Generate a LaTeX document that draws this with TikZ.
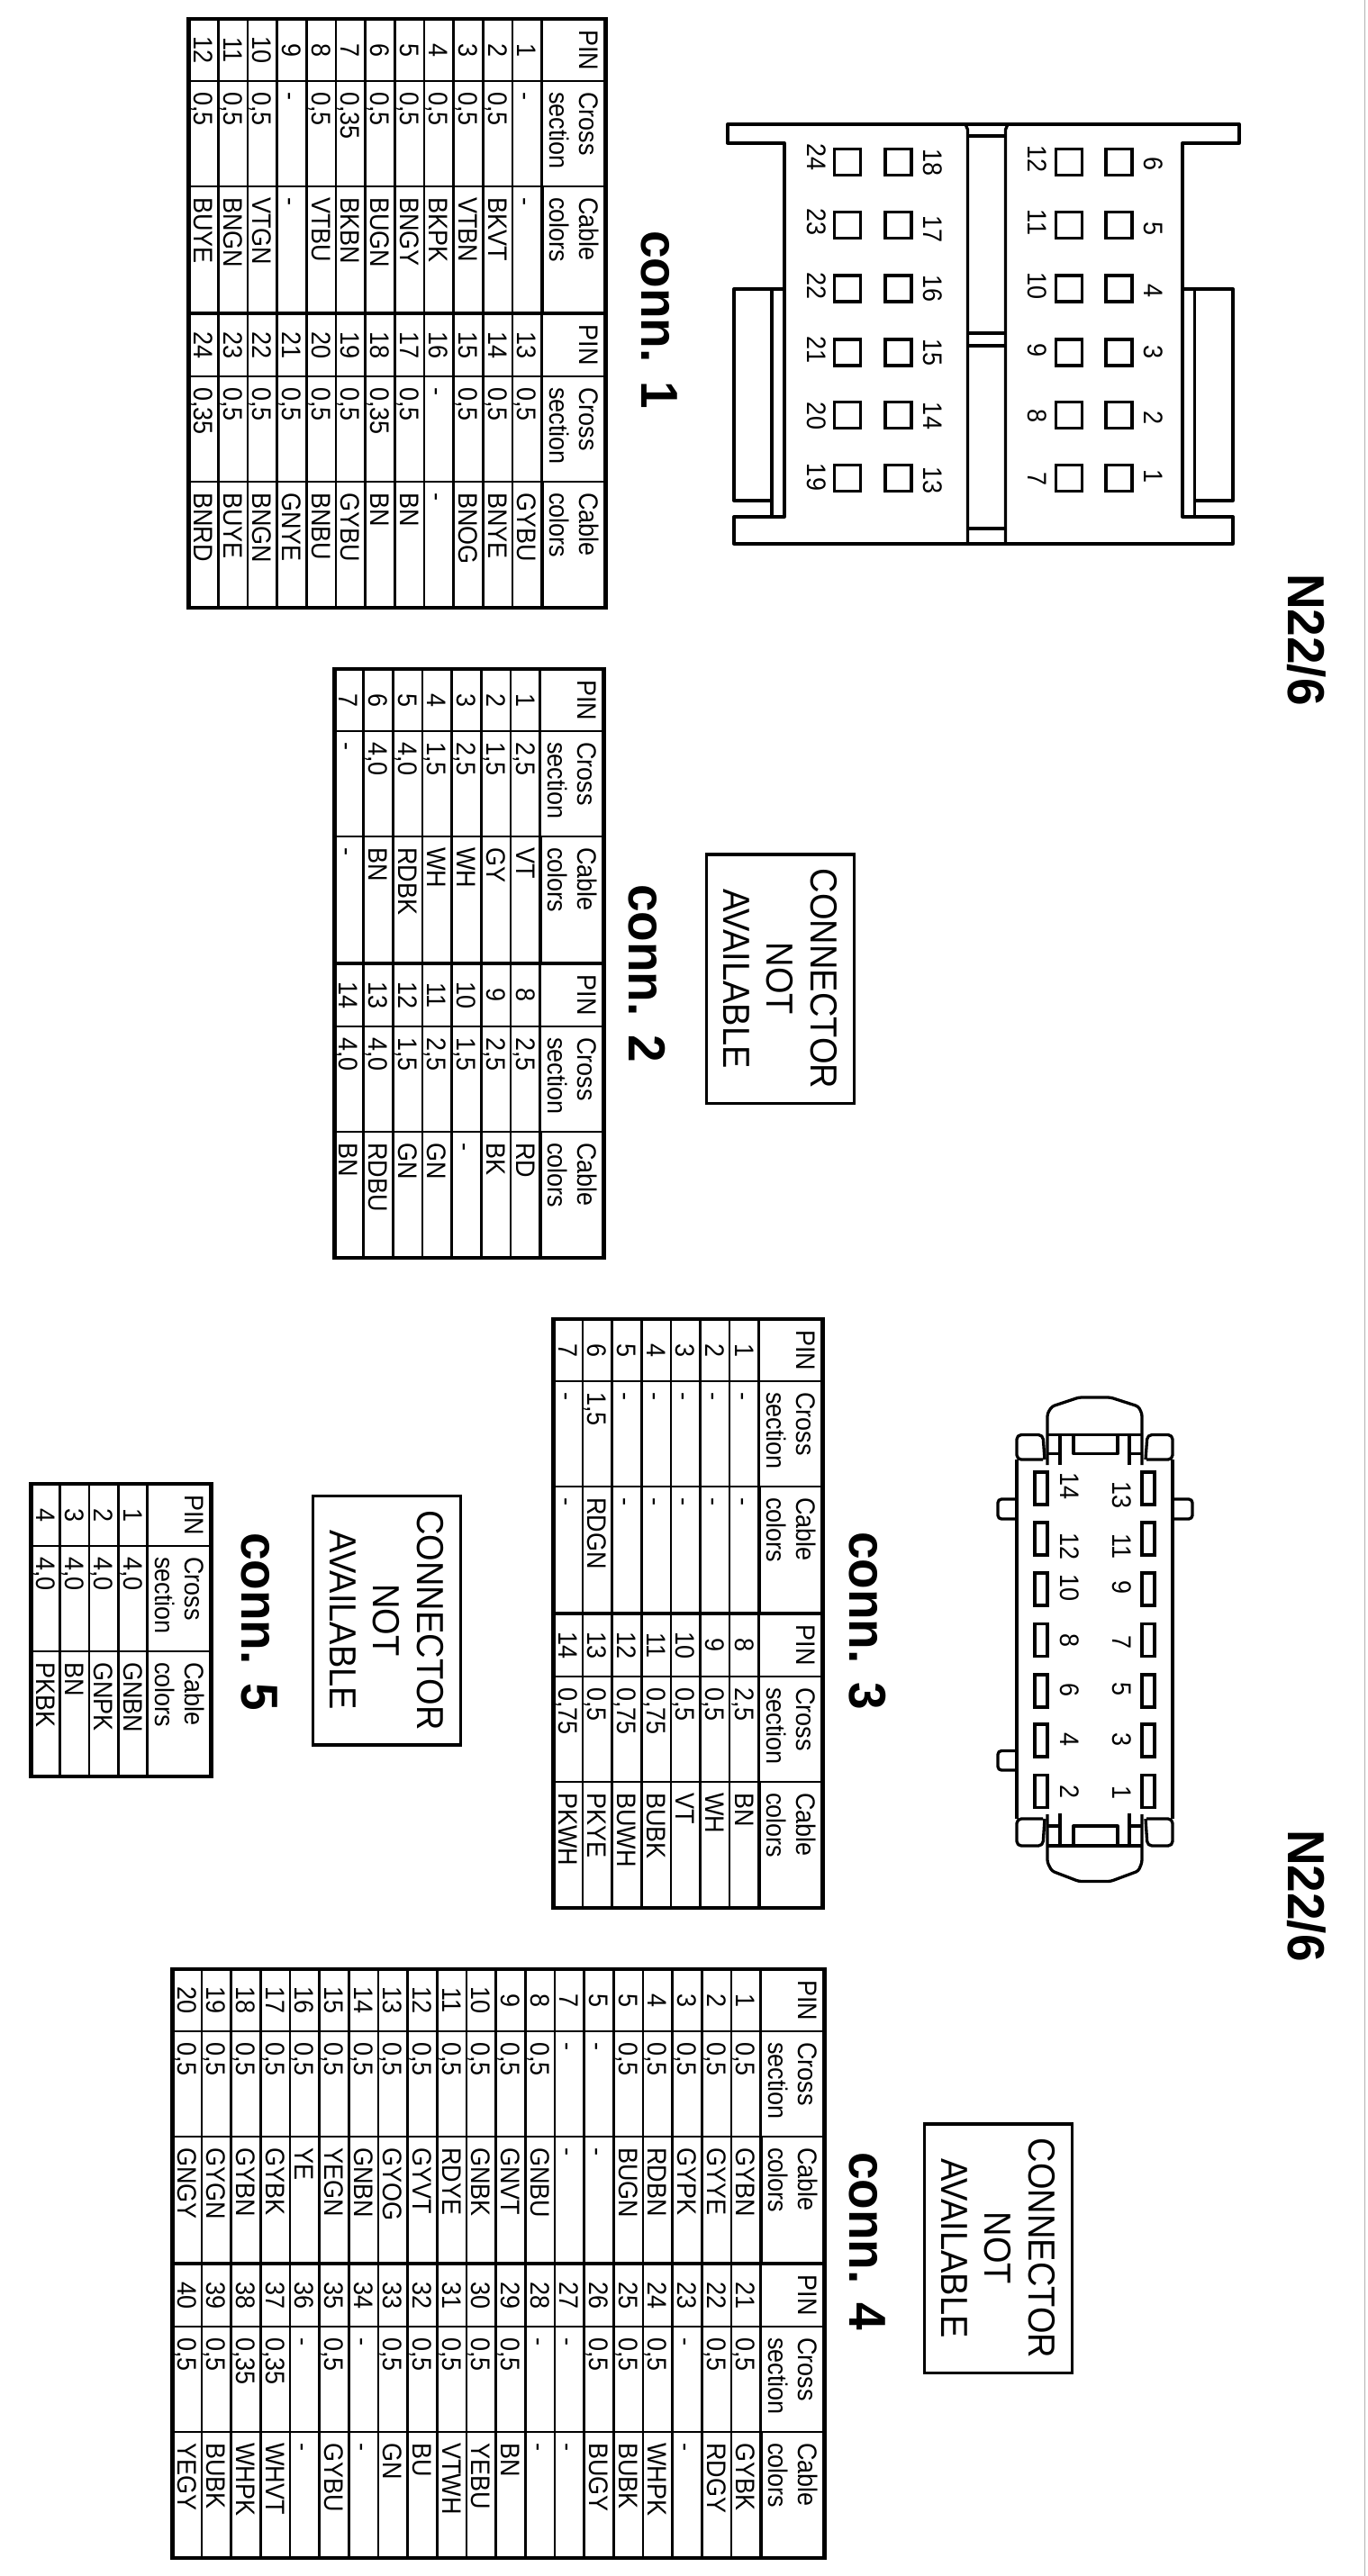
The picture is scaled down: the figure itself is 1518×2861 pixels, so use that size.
\documentclass[tikz,border=0pt]{standalone}
\usepackage{fontspec}
\setmainfont{Liberation Sans}
\usetikzlibrary{matrix,fit}

\begin{document}
\begin{tikzpicture}[
  x=1pt,y=-1pt,
  every node/.style={inner sep=0pt,outer sep=0pt},
  conntable/.style={
    matrix of nodes,
    anchor=north west,
    row sep=-2.4pt,
    column sep=-2.4pt,
    nodes={
      draw,
      line width=2.4pt,
      font=\fontsize{27}{30}\selectfont,
      minimum height=#1,
      text height=19pt,
      text depth=0pt
    },
    row 1/.style={nodes={minimum height=64pt,text height={},text depth={}}},
    column 1/.style={nodes={text width=69pt,align=center}},
    column 2/.style={nodes={text width=93pt,inner xsep=12pt,align=left}},
    column 3/.style={nodes={text width=117pt,inner xsep=12pt,align=left}},
    column 4/.style={nodes={text width=70pt,align=center}},
    column 5/.style={nodes={text width=93pt,inner xsep=12pt,align=left}},
    column 6/.style={nodes={text width=116pt,inner xsep=12pt,align=left}}
  },
  tableframe/.style={draw,line width=4.5pt},
  midline/.style={line width=4.5pt},
  notavailable/.style={
    draw,
    line width=3.5pt,
    rotate=-90,
    yscale=1.1,
    align=center,
    minimum width=276.5pt,
    minimum height=149.5pt,
    font=\fontsize{38}{44}\selectfont
  },
  conntitle/.style={
    rotate=-90,
    yscale=1.05,
    anchor=base west,
    font=\fontsize{55}{60}\selectfont\bfseries
  },
  pinbox/.style={draw,line width=3.3pt,minimum width=29pt,minimum height=29pt},
  pinslot/.style={draw,line width=3.3pt,minimum width=14pt,minimum height=36pt},
  pinnum/.style={
    rotate=-90,
    yscale=1.1,
    anchor=base,
    font=\fontsize{27}{30}\selectfont
  },
  outline/.style={line width=3.3pt,line join=round}
]
  \useasboundingbox (0,0) rectangle (1518,2861);
  \draw [gray!60,line width=1pt] (1515.5,0) -- (1515.5,2861);

  % conn. 1
  \begin{scope}[transform canvas={shift={(675,19)},rotate=-90,yscale=1.1}]
  \matrix (tableone) [conntable=29.7pt] at (1,1) {
    {PIN\\~} & {Cross\\section} & {Cable\\colors} & {PIN\\~} & {Cross\\section} & {Cable\\colors} \\
    1 & - & - & 13 & 0,5 & GYBU \\
    2 & 0,5 & BKVT & 14 & 0,5 & BNYE \\
    3 & 0,5 & VTBN & 15 & 0,5 & BNOG \\
    4 & 0,5 & BKPK & 16 & - & - \\
    5 & 0,5 & BNGY & 17 & 0,5 & BN \\
    6 & 0,5 & BUGN & 18 & 0,35 & BN \\
    7 & 0,35 & BKBN & 19 & 0,5 & GYBU \\
    8 & 0,5 & VTBU & 20 & 0,5 & BNBU \\
    9 & - & - & 21 & 0,5 & GNYE \\
    10 & 0,5 & VTGN & 22 & 0,5 & BNGN \\
    11 & 0,5 & BNGN & 23 & 0,5 & BUYE \\
    12 & 0,5 & BUYE & 24 & 0,35 & BNRD \\
  };
  \node [tableframe,fit=(tableone-1-1)(tableone-13-6)] (frameone) {};
  \draw [midline] (tableone-1-4.north west) -- (tableone-13-4.south west);
  \end{scope}
  \node [conntitle] (titleone) at (712.5,256) {conn. 1};

  % conn. 2
  \begin{scope}[transform canvas={shift={(673,741)},rotate=-90,yscale=1.1}]
  \matrix (tabletwo) [conntable=29.7pt] at (1,1) {
    {PIN\\~} & {Cross\\section} & {Cable\\colors} & {PIN\\~} & {Cross\\section} & {Cable\\colors} \\
    1 & 2,5 & VT & 8 & 2,5 & RD \\
    2 & 1,5 & GY & 9 & 2,5 & BK \\
    3 & 2,5 & WH & 10 & 1,5 & - \\
    4 & 1,5 & WH & 11 & 2,5 & GN \\
    5 & 4,0 & RDBK & 12 & 1,5 & GN \\
    6 & 4,0 & BN & 13 & 4,0 & RDBU \\
    7 & - & - & 14 & 4,0 & BN \\
  };
  \node [tableframe,fit=(tabletwo-1-1)(tabletwo-8-6)] (frametwo) {};
  \draw [midline] (tabletwo-1-4.north west) -- (tabletwo-8-4.south west);
  \end{scope}
  \node [conntitle] (titletwo) at (698,982) {conn. 2};
  \node [notavailable] (naone) at (866.5,1087) {CONNECTOR\\NOT\\AVAILABLE};

  % conn. 3
  \begin{scope}[transform canvas={shift={(916,1463)},rotate=-90,yscale=1.1}]
  \matrix (tablethree) [conntable=29.65pt] at (1,1) {
    {PIN\\~} & {Cross\\section} & {Cable\\colors} & {PIN\\~} & {Cross\\section} & {Cable\\colors} \\
    1 & - & - & 8 & 2,5 & BN \\
    2 & - & - & 9 & 0,5 & WH \\
    3 & - & - & 10 & 0,5 & VT \\
    4 & - & - & 11 & 0,75 & BUBK \\
    5 & - & - & 12 & 0,75 & BUWH \\
    6 & 1,5 & RDGN & 13 & 0,5 & PKYE \\
    7 & - & - & 14 & 0,75 & PKWH \\
  };
  \node [tableframe,fit=(tablethree-1-1)(tablethree-8-6)] (framethree) {};
  \draw [midline] (tablethree-1-4.north west) -- (tablethree-8-4.south west);
  \end{scope}
  \node [conntitle] (titlethree) at (943,1701) {conn. 3};

  % conn. 4
  \begin{scope}[transform canvas={shift={(918,2185)},rotate=-90,yscale=1.1}]
  \matrix (tablefour) [conntable=29.7pt] at (1,1) {
    {PIN\\~} & {Cross\\section} & {Cable\\colors} & {PIN\\~} & {Cross\\section} & {Cable\\colors} \\
    1 & 0,5 & GYBN & 21 & 0,5 & GYBK \\
    2 & 0,5 & GYYE & 22 & 0,5 & RDGY \\
    3 & 0,5 & GYPK & 23 & - & - \\
    4 & 0,5 & RDBN & 24 & 0,5 & WHPK \\
    5 & 0,5 & BUGN & 25 & 0,5 & BUBK \\
    5 & - & - & 26 & 0,5 & BUGY \\
    7 & - & - & 27 & - & - \\
    8 & 0,5 & GNBU & 28 & - & - \\
    9 & 0,5 & GNVT & 29 & 0,5 & BN \\
    10 & 0,5 & GNBK & 30 & 0,5 & YEBU \\
    11 & 0,5 & RDYE & 31 & 0,5 & VTWH \\
    12 & 0,5 & GYVT & 32 & 0,5 & BU \\
    13 & 0,5 & GYOG & 33 & 0,5 & GN \\
    14 & 0,5 & GNBN & 34 & - & - \\
    15 & 0,5 & YEGN & 35 & 0,5 & GYBU \\
    16 & 0,5 & YE & 36 & - & - \\
    17 & 0,5 & GYBK & 37 & 0,35 & WHVT \\
    18 & 0,5 & GYBN & 38 & 0,35 & WHPK \\
    19 & 0,5 & GYGN & 39 & 0,5 & BUBK \\
    20 & 0,5 & GNGY & 40 & 0,5 & YEGY \\
  };
  \node [tableframe,fit=(tablefour-1-1)(tablefour-21-6)] (framefour) {};
  \draw [midline] (tablefour-1-4.north west) -- (tablefour-21-4.south west);
  \end{scope}
  \node [conntitle] (titlefour) at (943,2390) {conn. 4};
  \node [notavailable] (natwo) at (1108.5,2497) {CONNECTOR\\NOT\\AVAILABLE};

  % conn. 5
  \begin{scope}[transform canvas={shift={(237,1646)},rotate=-90,yscale=1.1}]
  \matrix (tablefive) [conntable=29.4pt,column 3/.style={nodes={text width=115pt,inner xsep=12pt,align=left}}] at (1,1) {
    {PIN\\~} & {Cross\\section} & {Cable\\colors} \\
    1 & 4,0 & GNBN \\
    2 & 4,0 & GNPK \\
    3 & 4,0 & BN \\
    4 & 4,0 & PKBK \\
  };
  \node [tableframe,fit=(tablefive-1-1)(tablefive-5-3)] (framefive) {};
  \end{scope}
  \node [conntitle] (titlefive) at (268,1702) {conn. 5};
  \node [notavailable] (nathree) at (429.5,1799.5) {CONNECTOR\\NOT\\AVAILABLE};

  % N22/6 labels
  \node [conntitle] (nameone) at (1430,637) {N22/6};
  \node [conntitle] (nametwo) at (1430,2032) {N22/6};

  % upper connector
  \draw [outline] (808,138) -- (808,159) -- (871,159) -- (871,574) -- (815,574) -- (815,604)
    -- (1369,604) -- (1369,574) -- (1313,574) -- (1313,159) -- (1376,159) -- (1376,138) -- cycle;
  \draw [outline] (871,321) -- (815,321) -- (815,556) -- (857,556);
  \draw [outline] (857,321) -- (857,574);
  \draw [outline] (1313,321) -- (1369,321) -- (1369,556) -- (1326.5,556);
  \draw [outline] (1326.5,321) -- (1326.5,574);
  \draw [outline] (1072,138) -- (1074.5,144) -- (1074.5,604);
  \draw [outline] (1119,138) -- (1116.5,144) -- (1116.5,604);
  \draw [outline] (1074.5,151) -- (1116.5,151);
  \draw [outline] (1074.5,370) -- (1116.5,370);
  \draw [outline] (1074.5,384) -- (1116.5,384);
  \draw [outline] (1074.5,587) -- (1116.5,587);
  % upper connector, pins
  \node [pinbox] (upa1) at (1242.5,531) {};  \node [pinnum] (upn1) at (1270,529) {1};
  \node [pinbox] (upa2) at (1242.5,461) {};  \node [pinnum] (upn2) at (1270,464) {2};
  \node [pinbox] (upa3) at (1242.5,391.5) {};  \node [pinnum] (upn3) at (1270,391.5) {3};
  \node [pinbox] (upa4) at (1242.5,320.5) {};  \node [pinnum] (upn4) at (1270,323.5) {4};
  \node [pinbox] (upa5) at (1242.5,250) {};  \node [pinnum] (upn5) at (1270,254) {5};
  \node [pinbox] (upa6) at (1242.5,180) {};  \node [pinnum] (upn6) at (1270,182) {6};
  \node [pinbox] (upa7) at (1187,531) {};  \node [pinnum] (upn7) at (1141,532) {7};
  \node [pinbox] (upa8) at (1187,461) {};  \node [pinnum] (upn8) at (1141,462) {8};
  \node [pinbox] (upa9) at (1187,391.5) {};  \node [pinnum] (upn9) at (1141,389) {9};
  \node [pinbox] (upa10) at (1187,320.5) {};  \node [pinnum] (upn10) at (1141,318) {10};
  \node [pinbox] (upa11) at (1187,250) {};  \node [pinnum] (upn11) at (1141,247) {11};
  \node [pinbox] (upa12) at (1187,180) {};  \node [pinnum] (upn12) at (1141,177) {12};
  \node [pinbox] (upa13) at (997.5,531) {};  \node [pinnum] (upn13) at (1025,533.5) {13};
  \node [pinbox] (upa14) at (997.5,461) {};  \node [pinnum] (upn14) at (1025,462) {14};
  \node [pinbox] (upa15) at (997.5,391.5) {};  \node [pinnum] (upn15) at (1025,391.5) {15};
  \node [pinbox] (upa16) at (997.5,320.5) {};  \node [pinnum] (upn16) at (1025,321) {16};
  \node [pinbox] (upa17) at (997.5,250) {};  \node [pinnum] (upn17) at (1025,255) {17};
  \node [pinbox] (upa18) at (997.5,180) {};  \node [pinnum] (upn18) at (1025,181) {18};
  \node [pinbox] (upa19) at (941,531) {};  \node [pinnum] (upn19) at (896,530) {19};
  \node [pinbox] (upa20) at (941,461) {};  \node [pinnum] (upn20) at (896,462) {20};
  \node [pinbox] (upa21) at (941,391.5) {};  \node [pinnum] (upn21) at (896,389) {21};
  \node [pinbox] (upa22) at (941,320.5) {};  \node [pinnum] (upn22) at (896,318) {22};
  \node [pinbox] (upa23) at (941,250) {};  \node [pinnum] (upn23) at (896,247) {23};
  \node [pinbox] (upa24) at (941,180) {};  \node [pinnum] (upn24) at (896,175) {24};

  % lower connector
  \draw [outline] (1129,1621) -- (1129,2020);
  \draw [outline] (1302,1621) -- (1302,2020);
  \draw [outline,rounded corners=5pt] (1158,1621) -- (1129,1621) -- (1129,1593.5) -- (1158,1593.5) -- (1160,1621);
  \draw [outline,rounded corners=5pt] (1273,1621) -- (1302,1621) -- (1302,1593.5) -- (1274,1593.5) -- (1272,1621);
  \draw [outline,rounded corners=5pt] (1158,2020) -- (1129,2020) -- (1129,2050) -- (1158,2050) -- (1160,2020);
  \draw [outline,rounded corners=5pt] (1273,2020) -- (1302,2020) -- (1302,2050) -- (1274,2050) -- (1272,2020);
  \draw [outline,rounded corners=3pt] (1163,1627) -- (1163,1570) -- (1168,1562) -- (1198,1552) -- (1233,1552) -- (1264,1562) -- (1268,1570) -- (1268,1627);
  \draw [outline,rounded corners=3pt] (1163,2015) -- (1163,2068.5) -- (1168,2078) -- (1198,2089.5) -- (1233,2089.5) -- (1264,2078) -- (1268,2068.5) -- (1268,2015);
  \draw [outline] (1163,1593.5) -- (1268,1593.5);
  \draw [outline] (1163,2050) -- (1268,2050);
  \draw [outline] (1177,1593.5) -- (1177,1627);
  \draw [outline] (1254,1593.5) -- (1254,1627);
  \draw [outline] (1177,2014) -- (1177,2050);
  \draw [outline] (1254,2014) -- (1254,2050);
  \draw [outline] (1163,1614.6) -- (1177,1614.6);
  \draw [outline] (1254,1614.6) -- (1268,1614.6);
  \draw [outline] (1163,2028) -- (1177,2028);
  \draw [outline] (1254,2028) -- (1268,2028);
  \draw [outline] (1192,1593.5) -- (1192,1614.6) -- (1241,1614.6) -- (1241,1593.5);
  \draw [outline] (1192,2050) -- (1192,2028) -- (1241,2028) -- (1241,2050);
  \draw [outline,rounded corners=4pt] (1302,1665) -- (1324,1665) -- (1324,1687) -- (1302,1687);
  \draw [outline,rounded corners=4pt] (1129,1665) -- (1108,1665) -- (1108,1687) -- (1129,1687);
  \draw [outline,rounded corners=4pt] (1129,1944.5) -- (1108,1944.5) -- (1108,1966) -- (1129,1966);
  % lower connector, pins
  \node [pinslot] (loa1) at (1275,1989.5) {};  \node [pinnum] (lon1) at (1235,1991) {1};
  \node [pinslot] (loa2) at (1156,1989.5) {};  \node [pinnum] (lon2) at (1177,1990) {2};
  \node [pinslot] (loa3) at (1275,1933) {};  \node [pinnum] (lon3) at (1235,1932) {3};
  \node [pinslot] (loa4) at (1156,1933) {};  \node [pinnum] (lon4) at (1177,1932) {4};
  \node [pinslot] (loa5) at (1275,1878) {};  \node [pinnum] (lon5) at (1235,1876) {5};
  \node [pinslot] (loa6) at (1156,1878) {};  \node [pinnum] (lon6) at (1177,1877) {6};
  \node [pinslot] (loa7) at (1275,1821.5) {};  \node [pinnum] (lon7) at (1235,1824) {7};
  \node [pinslot] (loa8) at (1156,1821.5) {};  \node [pinnum] (lon8) at (1177,1822) {8};
  \node [pinslot] (loa9) at (1275,1765) {};  \node [pinnum] (lon9) at (1235,1763) {9};
  \node [pinslot] (loa10) at (1156,1765) {};  \node [pinnum] (lon10) at (1177,1763) {10};
  \node [pinslot] (loa11) at (1275,1709) {};  \node [pinnum] (lon11) at (1235,1717) {11};
  \node [pinslot] (loa12) at (1156,1709) {};  \node [pinnum] (lon12) at (1177,1717) {12};
  \node [pinslot] (loa13) at (1275,1653) {};  \node [pinnum] (lon13) at (1235,1660) {13};
  \node [pinslot] (loa14) at (1156,1653) {};  \node [pinnum] (lon14) at (1177,1650) {14};
\end{tikzpicture}
\end{document}
